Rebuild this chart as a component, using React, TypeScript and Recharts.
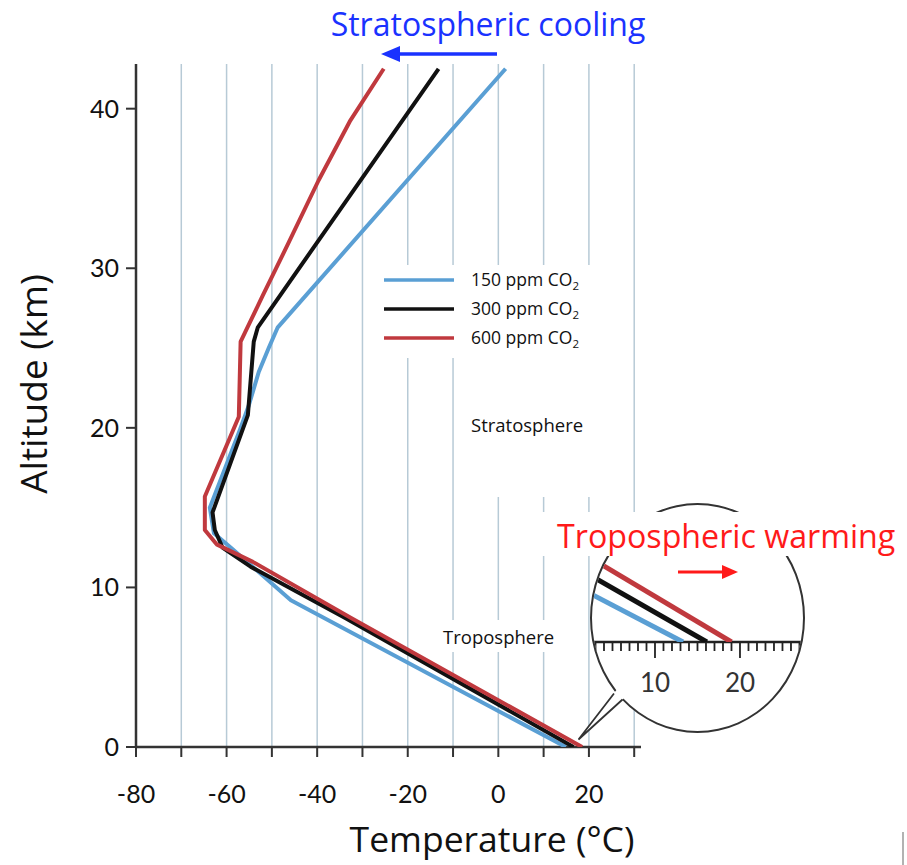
import { ScatterChart, Scatter, XAxis, YAxis, ReferenceLine } from 'recharts'

// ─── Data ─────────────────────────────────────────────────────────────────────

const FONT = "Lato, 'Noto Sans', sans-serif"
const LABEL_FONT = "'Open Sans', 'Noto Sans', sans-serif"

const TEMP_TICKS = [-80, -70, -60, -50, -40, -30, -20, -10, 0, 10, 20, 30]
const GRID_TEMPS = [-70, -60, -50, -40, -30, -20, -10, 0, 10, 20, 30]
const ALT_TICKS = [0, 10, 20, 30, 40]

const SERIES_PPM = [150, 300, 600]
const SERIES_COLORS = ['#5a9fd4', '#111111', '#c0393e']

// temperature (°C) / altitude (km) profiles
const TEMP_150 = [14.9, -45.8, -59.1, -62.8, -63.7, -57.3, -55.1, -52.9, -50.7, -48.7, 1.6]
const ALT_150 = [0, 9.2, 12.5, 13.4, 15.0, 19.7, 21.4, 23.5, 25.0, 26.3, 42.5]

const TEMP_300 = [16.6, -33.9, -54.7, -60.9, -62.6, -63.1, -55.3, -54.0, -53.1, -13.2]
const ALT_300 = [0, 8.1, 11.3, 12.5, 13.6, 14.7, 20.8, 25.4, 26.3, 42.5]

const TEMP_600 = [18.5, -32.6, -54.2, -62.2, -64.8, -64.8, -57.3, -56.9, -52.0, -46.3, -39.7, -32.8, -25.3]
const ALT_600 = [0, 8.1, 11.6, 12.7, 13.6, 15.7, 20.7, 25.4, 28.3, 31.6, 35.5, 39.2, 42.5]

// magnified surface detail
const INSET_TICKS = [3, 4, 5, 6, 7, 8, 9, 10, 11, 12, 13, 14, 15, 16, 17, 18, 19, 20, 21, 22, 23, 24, 25, 26, 27]
const INSET_TEMP_150 = [13.3, 2.0]
const INSET_ALT_150 = [0, 1.67]
const INSET_TEMP_300 = [16.1, 2.0]
const INSET_ALT_300 = [0, 2.28]
const INSET_TEMP_600 = [19.0, 2.0]
const INSET_ALT_600 = [0, 2.87]

// ─── Helpers ──────────────────────────────────────────────────────────────────

const zip = (t: number[], a: number[]) => t.map((v, i) => ({ t: v, a: a[i] }))

const MAIN = [zip(TEMP_150, ALT_150), zip(TEMP_300, ALT_300), zip(TEMP_600, ALT_600)]
const INSET = [
  zip(INSET_TEMP_150, INSET_ALT_150),
  zip(INSET_TEMP_300, INSET_ALT_300),
  zip(INSET_TEMP_600, INSET_ALT_600),
]

const noDot = () => <g />

function InsetTick({ x, y, payload }: { x?: number; y?: number; payload?: { value: number } }) {
  const v = payload?.value ?? 0
  const major = v % 10 === 0
  return (
    <g>
      <line x1={x} x2={x} y1={y} y2={(y ?? 0) + (major ? 16 : 9)} stroke="#222" strokeWidth={1.8} />
      {major && (
        <text x={x} y={(y ?? 0) + 50} textAnchor="middle" fontSize={26} fill="#333" fontFamily={FONT}>
          {v}
        </text>
      )}
    </g>
  )
}

// ─── Component ────────────────────────────────────────────────────────────────

export default function App() {
  return (
    <div style={{ position: 'absolute', left: 0, top: 0, width: 907, height: 865, background: '#fff', fontFamily: FONT, overflow: 'hidden' }}>
      <div style={{ position: 'absolute', left: 0, top: 0 }}>
        <ScatterChart width={907} height={865} margin={{ top: 64, right: 266, bottom: 58, left: 76 }}>
          <XAxis
            type="number"
            dataKey="t"
            domain={[-80, 31.5]}
            ticks={TEMP_TICKS}
            interval={0}
            allowDataOverflow
            height={60}
            tickSize={10}
            tickMargin={28}
            tickFormatter={(v: number) => (v % 20 === 0 ? String(v) : '')}
            tick={{ fontSize: 25, fill: '#111', fontFamily: FONT }}
            axisLine={{ stroke: '#333', strokeWidth: 2.5 }}
            tickLine={{ stroke: '#333', strokeWidth: 2 }}
          />
          <YAxis
            type="number"
            dataKey="a"
            domain={[0, 42.8]}
            ticks={ALT_TICKS}
            interval={0}
            allowDataOverflow
            width={60}
            tickSize={10}
            tickMargin={7}
            tick={{ fontSize: 25, fill: '#111', fontFamily: FONT }}
            axisLine={{ stroke: '#333', strokeWidth: 2.5 }}
            tickLine={{ stroke: '#333', strokeWidth: 2 }}
          />
          {GRID_TEMPS.map(v => (
            <ReferenceLine key={v} x={v} stroke="#b7cad6" strokeWidth={1.5} />
          ))}
          {MAIN.map((pts, i) => (
            <Scatter
              key={SERIES_PPM[i]}
              name={`${SERIES_PPM[i]} ppm`}
              data={pts}
              fill={SERIES_COLORS[i]}
              line={{ stroke: SERIES_COLORS[i], strokeWidth: 4, strokeLinejoin: 'round' }}
              shape={noDot}
              isAnimationActive={false}
            />
          ))}
        </ScatterChart>
      </div>

      {/* labels, legend, titles */}
      <svg width={907} height={865} style={{ position: 'absolute', left: 0, top: 0, pointerEvents: 'none' }} fontFamily={LABEL_FONT}>
        <rect x={372} y={265} width={228} height={93} fill="#fff" />
        <rect x={462} y={358} width={138} height={139} fill="#fff" />
        <rect x={437} y={620} width={123} height={32} fill="#fff" />

        {SERIES_PPM.map((ppm, i) => (
          <g key={ppm}>
            <line x1={384} x2={454} y1={280 + i * 29} y2={280 + i * 29} stroke={SERIES_COLORS[i]} strokeWidth={3.5} />
            <text x={471} y={286 + i * 29} fontSize={17.5} fill="#111">
              {ppm} ppm CO<tspan fontSize={11.5} dy={4}>2</tspan>
            </text>
          </g>
        ))}

        <text x={471} y={432} fontSize={18.5} fill="#111">Stratosphere</text>
        <text x={443} y={644} fontSize={18.5} fill="#111">Troposphere</text>

        <text x={488} y={36} fontSize={32} fill="#1a32ff" textAnchor="middle">Stratospheric cooling</text>
        <line x1={497} x2={396} y1={54} y2={54} stroke="#1a32ff" strokeWidth={3.5} />
        <polygon points="381,54 400,46 400,62" fill="#1a32ff" />

        <text x={492} y={852} fontSize={35.5} fill="#111" textAnchor="middle">Temperature (°C)</text>
        <text x={47} y={384} fontSize={37} fill="#111" textAnchor="middle" transform="rotate(-90 47 384)">Altitude (km)</text>

        <line x1={903} x2={903} y1={832} y2={865} stroke="#999" strokeWidth={1.5} />
      </svg>

      {/* magnifier */}
      <div style={{ position: 'absolute', left: 590, top: 503, width: 215, height: 230, boxSizing: 'border-box', border: '2px solid #333', borderRadius: '50%', background: '#fff', overflow: 'hidden' }}>
        <div style={{ position: 'absolute', left: -2, top: -2 }}>
          <ScatterChart width={215} height={230} margin={{ top: 0, right: 0, bottom: 0, left: 0 }}>
            <XAxis
              type="number"
              dataKey="t"
              domain={[2.353, 27.65]}
              ticks={INSET_TICKS}
              interval={0}
              allowDataOverflow
              height={91}
              tickSize={0}
              tickMargin={0}
              tickLine={false}
              tick={<InsetTick />}
              axisLine={{ stroke: '#222', strokeWidth: 2.5 }}
            />
            <YAxis type="number" dataKey="a" domain={[0, 4.633]} allowDataOverflow hide />
            {INSET.map((pts, i) => (
              <Scatter
                key={SERIES_PPM[i]}
                data={pts}
                fill={SERIES_COLORS[i]}
                line={{ stroke: SERIES_COLORS[i], strokeWidth: 5 }}
                shape={noDot}
                isAnimationActive={false}
              />
            ))}
          </ScatterChart>
        </div>
      </div>

      <svg width={907} height={865} style={{ position: 'absolute', left: 0, top: 0, pointerEvents: 'none' }} fontFamily={LABEL_FONT}>
        <polygon points="614,693 578.5,739.5 623,699 628,694 619,687" fill="#fff" />
        <polyline points="614,693.5 578.5,739.5 622.5,699.5" fill="none" stroke="#333" strokeWidth={1.8} />
        <rect x={540} y={512} width={367} height={44} fill="#fff" />
        <text x={557} y={548} fontSize={32.2} fill="#ff1a1a">Tropospheric warming</text>
        <line x1={678} x2={724} y1={572} y2={572} stroke="#ff1a1a" strokeWidth={3} />
        <polygon points="738,572 722,565 722,579" fill="#ff1a1a" />
      </svg>
    </div>
  )
}
